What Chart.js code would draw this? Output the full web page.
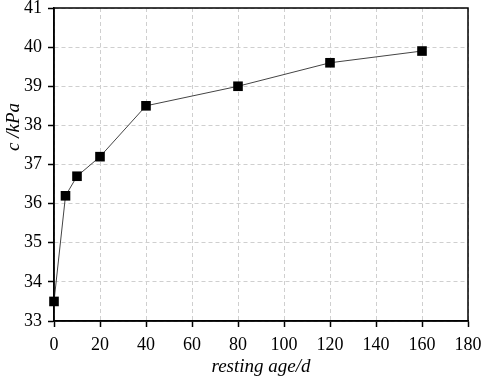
<!DOCTYPE html>
<html>
<head>
<meta charset="utf-8">
<script src="https://cdn.jsdelivr.net/npm/chart.js@4"></script>
<style>
  body { margin: 0; background: #fff; }
  #wrap { width: 484px; height: 378px; }
</style>
</head>
<body>
<div id="wrap"><canvas id="ageChart"></canvas></div>
<script>
// resting age (d) and cohesion c (kPa)
const restingAge = [0, 5, 10, 20, 40, 80, 120, 160];
const cohesion = [33.5, 36.2, 36.7, 37.2, 38.5, 39.0, 39.6, 39.9];

const serif = "'Liberation Serif', 'Times New Roman', serif";

// closes the frame on the top and right, and puts the y title a bit above centre
const frame = {
  id: 'frame',
  afterDraw(chart) {
    const { ctx, chartArea: a } = chart;
    ctx.save();
    ctx.setLineDash([]);
    ctx.strokeStyle = '#000';
    ctx.lineWidth = 1.5;
    ctx.strokeRect(a.left, a.top, a.right - a.left, a.bottom - a.top);
    ctx.translate(14, 127);
    ctx.rotate(-Math.PI / 2);
    ctx.fillStyle = '#000';
    ctx.font = 'italic 19px ' + serif;
    ctx.textAlign = 'center';
    ctx.textBaseline = 'middle';
    ctx.fillText('c /kPa', 0, 0);
    ctx.restore();
  }
};

let ctx = document.getElementById('ageChart').getContext('2d');

let ageChart = new Chart(ctx, {
  type: 'scatter',
  data: {
    datasets: [{
      data: restingAge.map((x, i) => ({ x: x, y: cohesion[i] })),
      showLine: true,
      clip: false,
      borderColor: '#444',
      borderWidth: 1,
      backgroundColor: '#000',
      pointStyle: 'rect',
      pointRadius: 6.8,
      pointHoverRadius: 6.8,
      pointBorderColor: '#000',
      pointBorderWidth: 0
    }]
  },
  options: {
    responsive: true,
    maintainAspectRatio: false,
    animation: false,
    layout: { padding: { top: 8, right: 16, left: 0, bottom: 0 } },
    plugins: { legend: { display: false }, tooltip: { enabled: false } },
    scales: {
      x: {
        type: 'linear',
        min: 0, max: 180,
        afterFit(scale) { scale.height = 57; scale.paddingLeft = 0; scale.paddingRight = 0; },
        ticks: { stepSize: 20, color: '#000', font: { family: serif, size: 18 }, padding: 7, maxRotation: 0 },
        grid: { color: '#cfcfcf', tickColor: '#000', tickLength: 6, tickWidth: 1.5, tickBorderDash: [] },
        border: { color: '#000', width: 1.5, dash: [4, 3] },
        title: { display: true, text: 'resting age/d', color: '#000', font: { family: serif, size: 19, style: 'italic' }, padding: { top: 0, bottom: 0 } }
      },
      y: {
        min: 33, max: 41,
        afterFit(scale) { scale.width = 54; scale.paddingTop = 0; scale.paddingBottom = 0; },
        ticks: { stepSize: 1, color: '#000', font: { family: serif, size: 18 }, padding: 6 },
        grid: { color: '#cfcfcf', tickColor: '#000', tickLength: 6, tickWidth: 1.5, tickBorderDash: [] },
        border: { color: '#000', width: 1.5, dash: [4, 3] }
      }
    }
  },
  plugins: [frame]
});
</script>
</body>
</html>
